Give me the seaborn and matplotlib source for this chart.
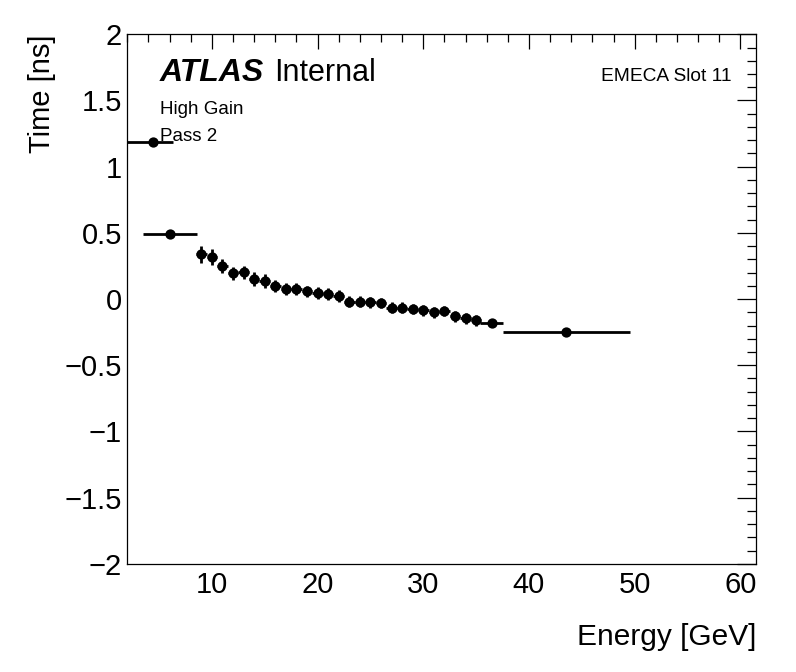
import pandas as pd
import seaborn as sns
import matplotlib
matplotlib.use("Agg")
import matplotlib.pyplot as plt
from matplotlib.ticker import MultipleLocator, FixedLocator

# values
energy = [4.4, 6.0, 9, 10, 11, 12, 13, 14, 15, 16, 17, 18, 19, 20, 21, 22,
          23, 24, 25, 26, 27, 28, 29, 30, 31, 32, 33, 34, 35, 36.5, 43.55]
time_ns = [1.19, 0.495, 0.338, 0.318, 0.248, 0.193, 0.202, 0.152, 0.137, 0.10,
           0.078, 0.076, 0.057, 0.045, 0.036, 0.021, -0.019, -0.019, -0.024,
           -0.029, -0.064, -0.064, -0.075, -0.085, -0.10, -0.09, -0.13, -0.145,
           -0.16, -0.18, -0.249]
time_err = [0.015, 0.02, 0.065, 0.06, 0.055, 0.05, 0.05, 0.05, 0.05, 0.045,
            0.045, 0.045, 0.045, 0.045, 0.045, 0.045, 0.04, 0.04, 0.04, 0.04,
            0.04, 0.04, 0.04, 0.04, 0.04, 0.04, 0.04, 0.04, 0.04, 0.02, 0.01]
e_low = [1.5, 3.5, 8.5, 9.5, 10.5, 11.5, 12.5, 13.5, 14.5, 15.5, 16.5, 17.5,
         18.5, 19.5, 20.5, 21.5, 22.5, 23.5, 24.5, 25.5, 26.5, 27.5, 28.5,
         29.5, 30.5, 31.5, 32.5, 33.5, 34.5, 35.4, 37.5]
e_high = [6.3, 8.55, 9.5, 10.5, 11.5, 12.5, 13.5, 14.5, 15.5, 16.5, 17.5,
          18.5, 19.5, 20.5, 21.5, 22.5, 23.5, 24.5, 25.5, 26.5, 27.5, 28.5,
          29.5, 30.5, 31.5, 32.5, 33.5, 34.5, 35.5, 37.55, 49.6]

x_ticks = [10, 20, 30, 40, 50, 60]
x_tick_labels = ["10", "20", "30", "40", "50", "60"]
y_ticks = [-2, -1.5, -1, -0.5, 0, 0.5, 1, 1.5, 2]
y_tick_labels = ["\u22122", "\u22121.5", "\u22121", "\u22120.5", "0", "0.5", "1", "1.5", "2"]

df = pd.DataFrame({"energy": energy, "time": time_ns, "err": time_err,
                   "lo": e_low, "hi": e_high})

sns.set_theme(style="white")
plt.rcParams["font.family"] = ["Liberation Sans", "DejaVu Sans"]
plt.rcParams["text.color"] = "black"
plt.rcParams["axes.labelcolor"] = "black"

fig = plt.figure(figsize=(7.96, 6.72), dpi=100)
ax = fig.add_axes([0.16, 0.161, 0.790, 0.788])

ax.errorbar(df["energy"], df["time"], yerr=df["err"],
            xerr=[df["energy"] - df["lo"], df["hi"] - df["energy"]],
            fmt="none", ecolor="black", elinewidth=2.0, capsize=0, zorder=2)
sns.scatterplot(data=df, x="energy", y="time", color="black", s=55,
                marker="o", edgecolor="black", linewidth=0, ax=ax, zorder=3)

ax.set_xlim(2, 61.5)
ax.set_ylim(-2, 2)
ax.xaxis.set_major_locator(FixedLocator(x_ticks))
ax.set_xticklabels(x_tick_labels)
ax.xaxis.set_minor_locator(MultipleLocator(2))
ax.yaxis.set_major_locator(FixedLocator(y_ticks))
ax.set_yticklabels(y_tick_labels)
ax.yaxis.set_minor_locator(MultipleLocator(0.1))

for sp in ax.spines.values():
    sp.set_visible(True)
    sp.set_color("black")
    sp.set_linewidth(0.9)

ax.tick_params(axis="both", which="both", direction="in", top=True, right=True,
               color="black", width=0.9, labelsize=21, labelcolor="black")
ax.tick_params(axis="x", which="major", length=11, pad=5)
ax.tick_params(axis="x", which="minor", length=5.5)
ax.tick_params(axis="y", which="major", length=13.5, pad=4)
ax.tick_params(axis="y", which="minor", length=6.8)

ax.set_xlabel("Energy [GeV]", fontsize=21.5, loc="right")
ax.xaxis.set_label_coords(1.0, -0.111)
ax.set_ylabel("Time [ns]", fontsize=21, loc="top")
ax.yaxis.set_label_coords(-0.113, 1.0)

ax.text(0.052, 0.911, "ATLAS", transform=ax.transAxes, fontsize=23,
        fontweight="bold", fontstyle="italic", va="baseline", ha="left")
ax.text(0.233, 0.911, "Internal", transform=ax.transAxes, fontsize=22,
        va="baseline", ha="left")
ax.text(0.052, 0.850, "High Gain", transform=ax.transAxes, fontsize=13.5,
        va="baseline", ha="left")
ax.text(0.052, 0.798, "Pass 2", transform=ax.transAxes, fontsize=13.5,
        va="baseline", ha="left")
ax.text(0.961, 0.911, "EMECA Slot 11", transform=ax.transAxes, fontsize=13.8,
        va="baseline", ha="right")

fig.savefig("out.png", dpi=100)
